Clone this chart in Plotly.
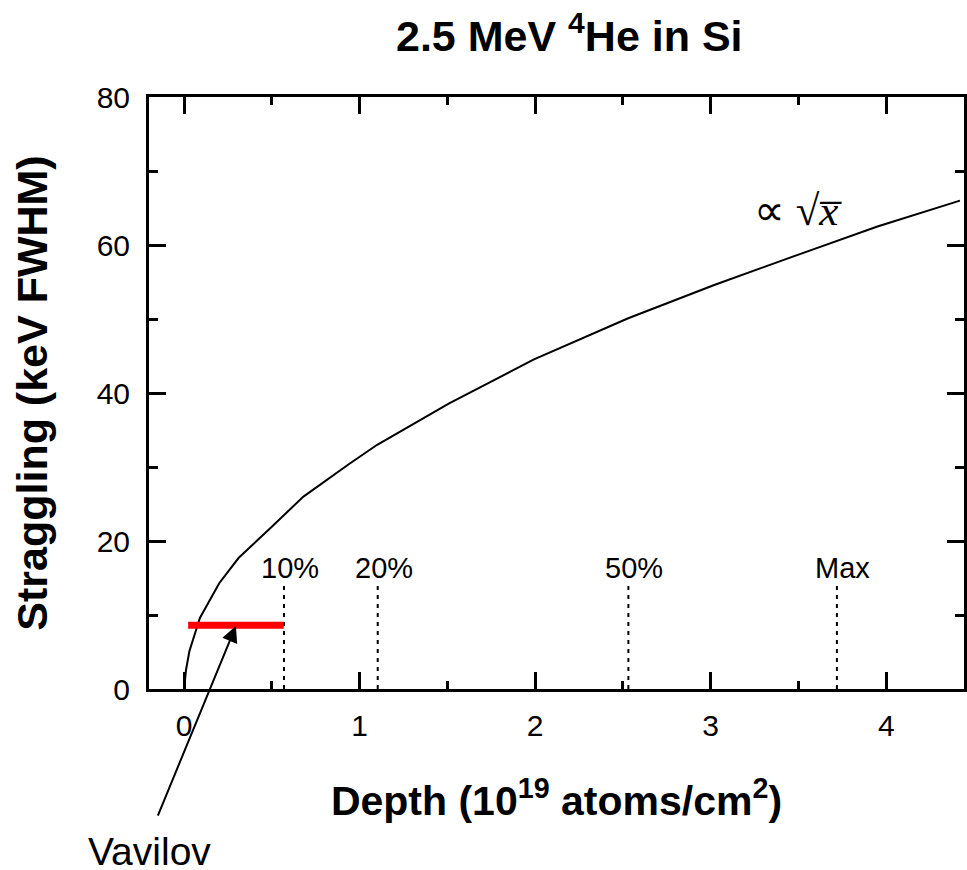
import plotly.graph_objects as go

# Data
depth = [0, 0.011, 0.03, 0.09, 0.20, 0.31, 0.48, 0.68, 0.94, 1.10, 1.51, 1.99, 2.53, 3.02, 3.50, 3.95, 4.42]
straggling = [0, 2.6, 5.1, 9.6, 14.3, 17.7, 21.5, 26.0, 30.4, 33.0, 38.6, 44.5, 50.1, 54.6, 58.7, 62.5, 66.0]

marker_labels = ["10%", "20%", "50%", "Max"]
marker_depths = [0.569, 1.103, 2.531, 3.719]
marker_top = 14.3
label_y = 16.4

vavilov_x = [0.023, 0.568]
vavilov_y = [8.6, 8.6]
arrow_tip = (0.295, 8.5)
arrow_tail = (-0.153, -17.3)

FONT = "Arial, Liberation Sans, sans-serif"

fig = go.Figure()

fig.add_trace(go.Scatter(x=depth, y=straggling, mode="lines",
                         line=dict(color="black", width=2), showlegend=False,
                         hoverinfo="skip"))

for d in marker_depths:
    fig.add_trace(go.Scatter(x=[d, d], y=[0, marker_top], mode="lines",
                             line=dict(color="black", width=2, dash="4px,5px"),
                             showlegend=False, hoverinfo="skip"))

fig.add_trace(go.Scatter(x=vavilov_x, y=vavilov_y, mode="lines",
                         line=dict(color="#ff0000", width=7), showlegend=False,
                         hoverinfo="skip"))

annotations = []
for lab, d in zip(marker_labels, marker_depths):
    annotations.append(dict(x=d, y=label_y, xref="x", yref="y", text=lab,
                            showarrow=False, xanchor="center", yanchor="middle",
                            xshift=6, font=dict(family=FONT, size=29, color="black")))

annotations.append(dict(x=arrow_tip[0], y=arrow_tip[1], xref="x", yref="y",
                        ax=arrow_tail[0], ay=arrow_tail[1], axref="x", ayref="y",
                        text="", showarrow=True, arrowhead=2, arrowsize=1.6,
                        arrowwidth=2, arrowcolor="black"))
annotations.append(dict(x=0.0, y=-0.275, xref="paper", yref="paper", text="Vavilov",
                        showarrow=False, xanchor="center", yanchor="middle",
                        font=dict(family=FONT, size=39, color="black")))
annotations.append(dict(x=3.50, y=64.6, xref="x", yref="y",
                        text="\u221d \u221a<i>x\u0305</i>",
                        showarrow=False, xanchor="center", yanchor="middle",
                        font=dict(family="Liberation Serif, Times New Roman, serif", size=43, color="black")))
annotations.append(dict(x=0.516, y=1.108, xref="paper", yref="paper",
                        text="<b>2.5 MeV <sup>4</sup>He in Si</b>",
                        showarrow=False, xanchor="center", yanchor="middle",
                        font=dict(family=FONT, size=43, color="black")))

axis_common = dict(showline=True, linecolor="black", linewidth=3, mirror="ticks",
                   ticks="inside", ticklen=17, tickwidth=2.5, tickcolor="black",
                   showgrid=False, zeroline=False,
                   tickfont=dict(family=FONT, size=30, color="black"))

fig.update_layout(
    width=967, height=870,
    margin=dict(l=149, r=0, t=97, b=181),
    paper_bgcolor="white", plot_bgcolor="white",
    annotations=annotations,
    xaxis=dict(range=[-0.2, 4.443], tickvals=[0, 1, 2, 3, 4],
               minor=dict(tickvals=[0.5, 1.5, 2.5, 3.5], ticklen=8, tickwidth=2.5,
                          ticks="inside", tickcolor="black"),
               ticklabelstandoff=8,
               title=dict(text="<b>Depth (10<sup>19</sup> atoms/cm<sup>2</sup>)</b>",
                          font=dict(family=FONT, size=41, color="black"), standoff=46),
               **axis_common),
    yaxis=dict(range=[0, 80], tickvals=[0, 20, 40, 60, 80],
               minor=dict(tickvals=[10, 30, 50, 70], ticklen=9, tickwidth=2.5,
                          ticks="inside", tickcolor="black"),
               ticklabelstandoff=10,
               title=dict(text="<b>Straggling (keV FWHM)</b>",
                          font=dict(family=FONT, size=43, color="black"), standoff=36),
               **axis_common),
)

fig.write_html("out.html")
